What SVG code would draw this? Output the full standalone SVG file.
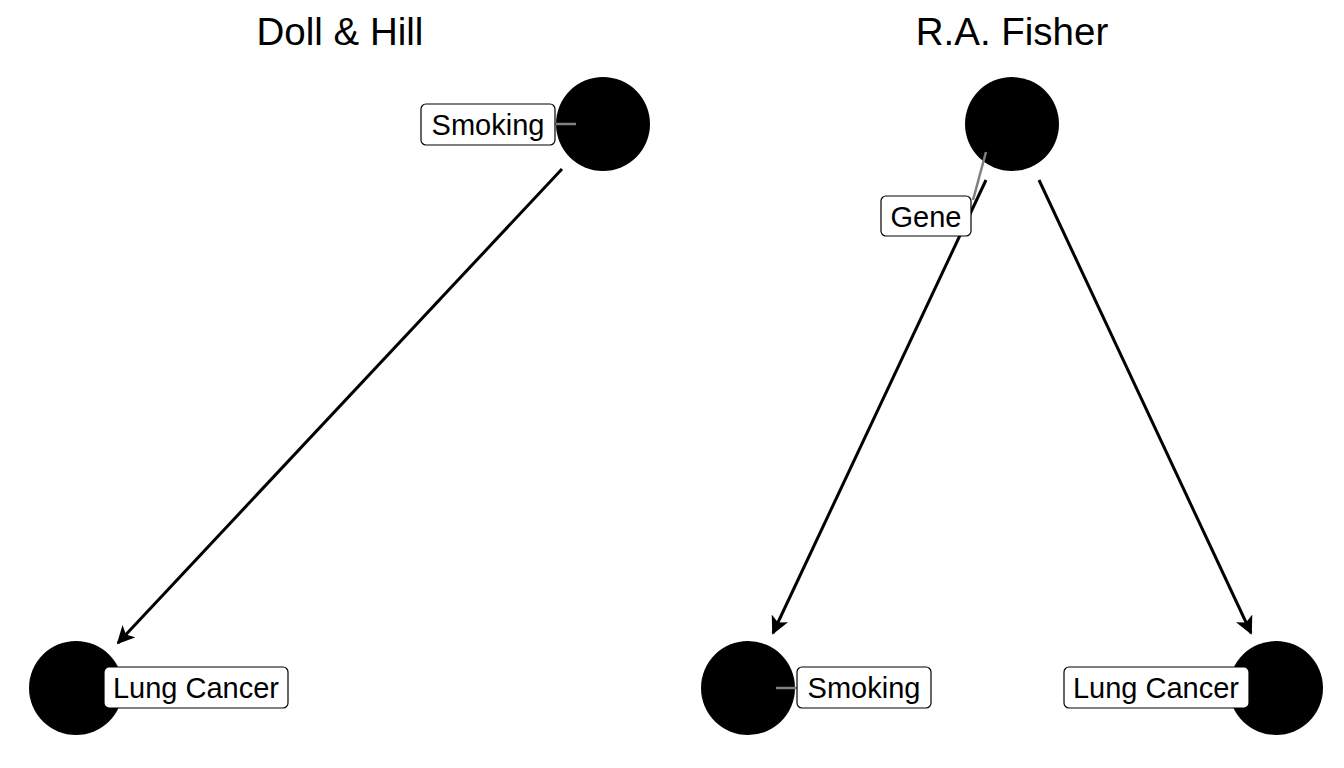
<svg xmlns="http://www.w3.org/2000/svg" width="1344" height="768" viewBox="0 0 1344 768">
<style>
.title{font-family:"Liberation Sans",Arial,sans-serif;font-size:38.5px;fill:#000;text-anchor:middle}
.lbl{font-family:"Liberation Sans",Arial,sans-serif;font-size:29px;fill:#000;text-anchor:middle}
.box{fill:#fff;stroke:#000;stroke-width:1.2}
.node{fill:#000}
.edge{stroke:#000;stroke-width:3;fill:none;marker-end:url(#ah)}
.lead{stroke:#808080;stroke-width:2.5}
</style>
<defs>
<marker id="ah" viewBox="0 0 10 10" refX="9" refY="5" markerWidth="6" markerHeight="6" orient="auto" markerUnits="strokeWidth">
<path d="M0,0 L10,5 L0,10 L2.5,5 Z" fill="#000"/>
</marker>
</defs>
<rect width="1344" height="768" fill="#fff"/>
<text class="title" x="340" y="45">Doll &amp; Hill</text>
<text class="title" x="1012" y="45">R.A. Fisher</text>
<g id="connectors">
<line class="edge" x1="562" y1="169" x2="118" y2="643"/>
<line class="edge" x1="986" y1="180" x2="773" y2="633"/>
<line class="edge" x1="1039" y1="180" x2="1251" y2="633"/>
</g>
<g id="n-smoking-dh">
<circle class="node" cx="603" cy="124" r="47"/>
<line class="lead" x1="555" y1="124" x2="576" y2="124"/>
<rect class="box" x="421" y="104" width="134" height="41" rx="5"/>
<text class="lbl" x="488" y="135">Smoking</text>
</g>
<g id="n-cancer-dh">
<circle class="node" cx="76" cy="688" r="47"/>
<rect class="box" x="104" y="667" width="184" height="41" rx="5"/>
<text class="lbl" x="196" y="698">Lung Cancer</text>
</g>
<g id="n-gene">
<circle class="node" cx="1012" cy="124" r="47"/>
<line class="lead" x1="986" y1="152" x2="973" y2="200"/>
<rect class="box" x="881" y="196" width="90" height="40" rx="5"/>
<text class="lbl" x="926" y="227">Gene</text>
</g>
<g id="n-smoking-rf">
<circle class="node" cx="748" cy="688" r="47"/>
<line class="lead" x1="776" y1="688" x2="797" y2="688"/>
<rect class="box" x="797" y="667" width="134" height="41" rx="5"/>
<text class="lbl" x="864" y="698">Smoking</text>
</g>
<g id="n-cancer-rf">
<circle class="node" cx="1276" cy="688" r="47"/>
<rect class="box" x="1064" y="667" width="185" height="41" rx="5"/>
<text class="lbl" x="1156" y="698">Lung Cancer</text>
</g>
</svg>
